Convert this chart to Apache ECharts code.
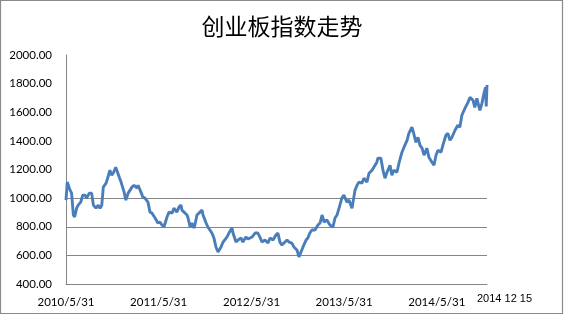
<!DOCTYPE html>
<html>
<head>
<meta charset="utf-8">
<script src="https://cdn.jsdelivr.net/npm/echarts@6/dist/echarts.min.js"></script>
<style>
html,body{margin:0;padding:0;background:#fff;}
#chart{width:564px;height:315px;}
</style>
</head>
<body>
<div id="chart"></div>
<script>
// ---- data ----
const titleText = '创业板指数走势';
// days since 2010-05-31
const dayOffsets = [0,5,11,16,22,29,34,42,48,58,66,75,81,92,101,108,118,127,134,141,147,158,164,173,180,186,196,202,210,217,223,229,236,245,
260,268,280,284,292,303,311,323,331,339,351,362,370,378,386,398,406,418,425,437,445,453,457,465,477,481,489,496,504,
508,516,524,536,540,552,559,575,583,591,599,611,619,634,642,654,658,670,678,690,697,709,717,733,745,
756,764,772,784,796,804,816,827,835,843,851,859,871,879,890,898,910,918,926,934,946,953,961,969,981,993,1001,1009,1017,
1028,1040,1052,1060,1068,1076,1087,1095,1107,1115,1127,1131,1139,1147,1154,1166,1174,1186,1194,1206,1213,1225,1229,1241,1249,1257,1265,
1277,1284,1292,1304,1312,1324,1332,1344,1351,1363,1367,1379,1387,1395,1403,1411,1422,1430,1442,1450,1458,1466,1478,1485,1497,1505,1513,1521,1533,1544,1552,1560,1572,1584,1592,1604,1611,1619,1631,1639,1647,1653,1656,1659];
const indexValues = [986,1112,1125,1056,1035,882,868,930,951,972,1021,1021,1000,1035,1035,951,930,951,930,951,1077,1105,1139,1195,1160,1174,1216,1209,1146,1112,1105,1042,986,1035,
1077,1090,1070,1090,1056,1007,1000,972,902,895,861,826,833,812,798,868,902,895,930,902,937,951,916,902,882,861,798,826,791,
812,882,895,916,882,826,798,756,721,659,624,659,693,728,756,791,756,693,707,721,693,728,714,728,756,
756,728,693,707,686,721,707,742,756,693,672,686,707,693,686,659,638,589,624,659,707,721,756,777,777,812,826,882,833,
847,812,798,861,882,930,1000,1021,972,986,930,972,1056,1090,1112,1105,1139,1112,1174,1195,1216,1251,1279,1279,1195,1139,1181,
1230,1160,1195,1181,1244,1321,1356,1404,1453,1495,1474,1390,1425,1369,1349,1300,1349,1286,1251,1230,1300,1335,1321,1369,1439,1453,1404,1425,1474,1509,1495,1579,1627,1669,1704,1683,1634,1697,1613,1662,1732,1774,1640,1790];
const xTickDays = [0,365,731,1096,1461];
const xTickLabels = ['2010/5/31','2011/5/31','2012/5/31','2013/5/31','2014/5/31'];
const endDay = 1659;
const endLabel = '2014 12 15';
const yMin = 400, yMax = 2000, yStep = 200;
const gridValues = [600, 800, 1000];

// ---- chart ----
const chart = echarts.init(document.getElementById('chart'), null, {renderer:'canvas'});
const axisGray = '#868686';
const option = {
  backgroundColor: '#fff',
  animation: false,
  title: {
    text: titleText, left: 'center', top: 10,
    textStyle: {fontFamily: 'Noto Sans CJK SC', fontSize: 23, fontWeight: 'normal', color: '#000'}
  },
  grid: {left: 66, right: 77, top: 55, bottom: 31, containLabel: false},
  xAxis: {
    type: 'value', min: 0, max: endDay,
    axisLine: {show: true, lineStyle: {color: axisGray, width: 1}},
    axisTick: {show: false},
    splitLine: {show: false},
    axisLabel: {
      customValues: xTickDays,
      formatter: v => { const i = xTickDays.indexOf(v); return i >= 0 ? xTickLabels[i] : ''; },
      fontFamily: 'Lato', fontSize: 11.5, color: '#000', margin: 12
    }
  },
  yAxis: {
    type: 'value', min: yMin, max: yMax, interval: yStep,
    axisLine: {show: true, lineStyle: {color: axisGray, width: 1}},
    axisTick: {show: false},
    splitLine: {show: false},
    axisLabel: {
      formatter: v => v.toFixed(2),
      fontFamily: 'Lato', fontSize: 11.5, color: '#000', margin: 14
    }
  },
  graphic: [
    {type: 'rect', shape: {x: 0.5, y: 0.5, width: 562, height: 313},
     style: {fill: 'none', stroke: '#8a8a8a', lineWidth: 1.2}, silent: true},
    {type: 'text', left: 477, top: 293,
     style: {text: endLabel, fontFamily: 'Liberation Sans', fontSize: 11, fill: '#000'}}
  ],
  series: [
    {
      type: 'line', data: [], z: 1, silent: true,
      markLine: {
        silent: true, symbol: 'none', z: 1,
        label: {show: false},
        lineStyle: {color: axisGray, width: 1, type: 'solid'},
        data: gridValues.map(v => ({yAxis: v}))
      }
    },
    {
      type: 'line', z: 3,
      data: dayOffsets.map((d, i) => [d, indexValues[i]]),
      showSymbol: false, symbol: 'none',
      lineStyle: {color: '#4a7ebb', width: 2.9},
      itemStyle: {color: '#4a7ebb'}
    }
  ]
};
chart.setOption(option);
</script>
</body>
</html>
